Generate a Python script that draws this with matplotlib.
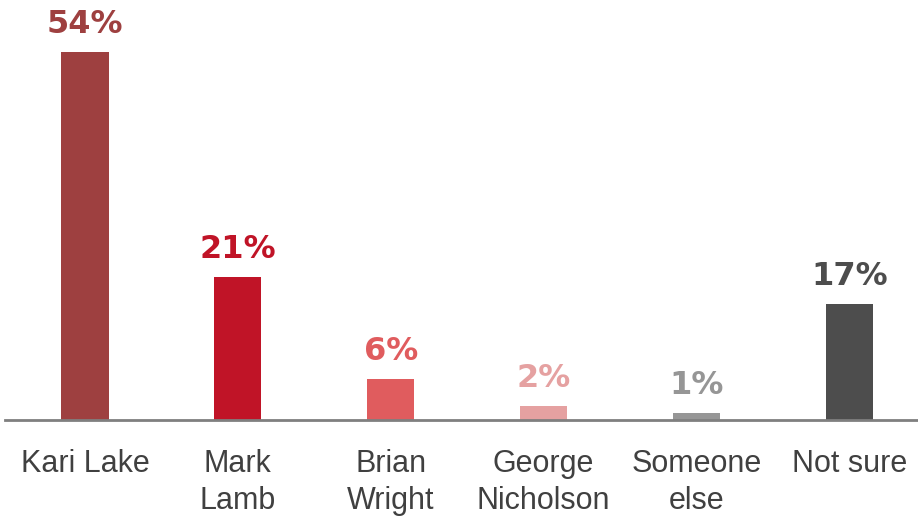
import matplotlib.pyplot as plt

# --- datos ---
categorias = ["Kari Lake", "Mark\nLamb", "Brian\nWright", "George\nNicholson", "Someone\nelse", "Not sure"]
valores = [54, 21, 6, 2, 1, 17]
colores = ["#9e4040", "#c01427", "#e05c5e", "#e5a1a1", "#969696", "#4d4d4d"]

fig = plt.figure(figsize=(9.18, 5.16), dpi=100)
ax = fig.add_axes([5 / 918, 96 / 516, 913 / 918, 409 / 516])

x = range(len(categorias))
ax.bar(x, valores, width=0.31, color=colores, zorder=2)

for xi, v, c in zip(x, valores, colores):
    ax.text(xi, v + 1.8, f"{v}%", ha="center", va="bottom", color=c,
            fontsize=23, fontweight="bold", family="DejaVu Sans")

ax.set_xlim(-0.523, 5.45)
ax.set_ylim(0, 60)
ax.set_xticks(list(x))
ax.set_xticklabels(categorias, fontsize=22, family="Liberation Sans",
                   color="#404040", linespacing=1.3)
ax.tick_params(axis="x", length=0, pad=21)
ax.set_yticks([])
for s in ["top", "right", "left"]:
    ax.spines[s].set_visible(False)
ax.spines["bottom"].set_color("#7f7f7f")
ax.spines["bottom"].set_linewidth(2)

fig.savefig("out.png", dpi=100)
